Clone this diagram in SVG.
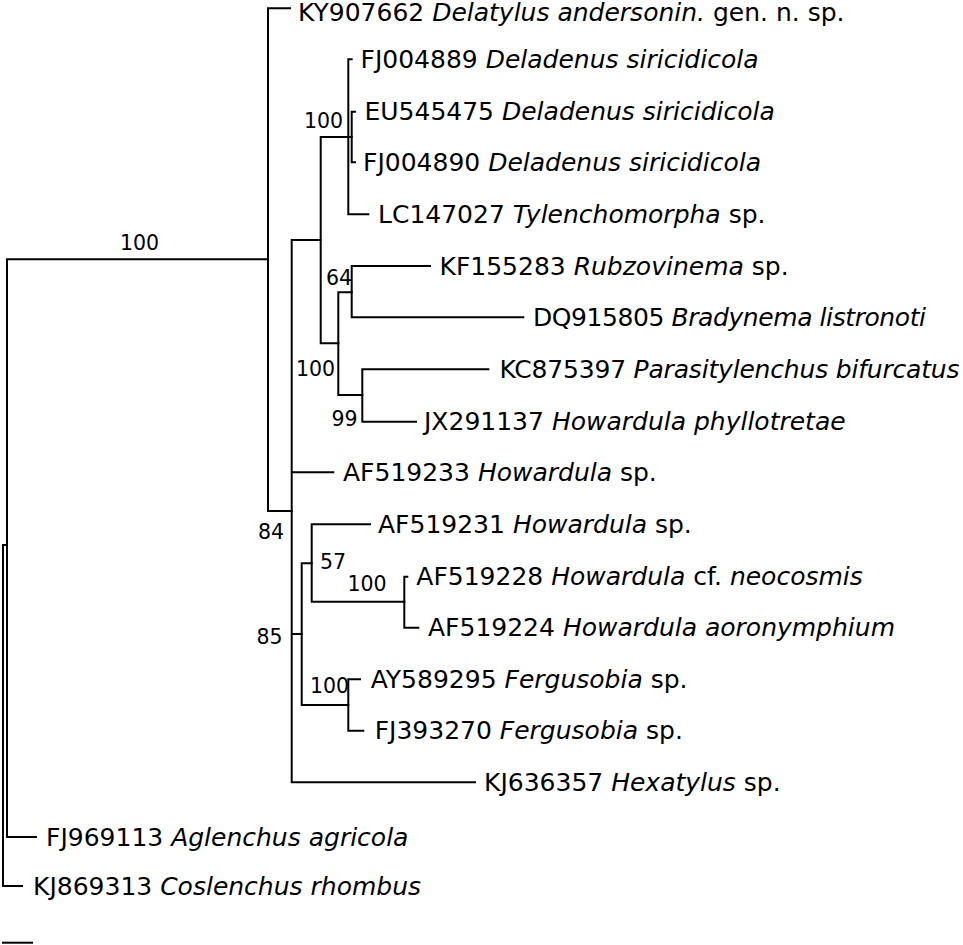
<svg xmlns="http://www.w3.org/2000/svg" width="963" height="945" viewBox="0 0 963 945">
<style>
.e{fill:none;stroke:#000;stroke-width:2;stroke-linecap:square}
.t{font-family:"DejaVu Sans",sans-serif;font-size:25px;fill:#000}
.b{font-family:"DejaVu Sans",sans-serif;font-size:20.5px;fill:#000}
.i{font-style:italic}
</style>
<rect width="963" height="945" fill="#fff"/>
<g id="connectors">
<path class="e" d="M3,545V886M3,545H7M3,886H22"/>
<path class="e" d="M7,259.3V837M7,259.3H268M7,837H36"/>
<path class="e" d="M268,8.3V511M268,8.3H290M268,511H291.7"/>
<path class="e" d="M291.7,240V782.3M291.7,240H320.7M291.7,472.3H333.3M291.7,634H301.7M291.7,782.3H475"/>
<path class="e" d="M320.7,137V343.3M320.7,137H351.7M320.7,343.3H338.3"/>
<path class="e" d="M348.3,59.3V214.3M348.3,59.3H351.7M348.3,214.3H368.3"/>
<path class="e" d="M351.7,111.7V162.3M351.7,111.7H355M351.7,162.3H355"/>
<path class="e" d="M338.3,292.3V395M338.3,292.3H351.7M338.3,395H362.3"/>
<path class="e" d="M351.7,266V317.3M351.7,266H430M351.7,317.3H523.3"/>
<path class="e" d="M362.3,369.3V421.7M362.3,369.3H488.3M362.3,421.7H416"/>
<path class="e" d="M301.7,563.3V705M301.7,563.3H311.7M301.7,705H348.3"/>
<path class="e" d="M311.7,524.3V601.7M311.7,524.3H370M311.7,601.7H404.3"/>
<path class="e" d="M404.3,576.7V627.7M404.3,576.7H407.3M404.3,627.7H418.3"/>
<path class="e" d="M348.3,679.3V730.7M348.3,679.3H360M348.3,730.7H363.3"/>
<path class="e" d="M3,942.7H32"/>
</g>
<g id="n-root"><text class="b" x="120" y="250">100</text></g>
<g id="n-deladenus"><text class="b" x="304" y="128">100</text></g>
<g id="n-64"><text class="b" x="326" y="285">64</text></g>
<g id="n-100b"><text class="b" x="296" y="376">100</text></g>
<g id="n-99"><text class="b" x="331.5" y="426">99</text></g>
<g id="n-84"><text class="b" x="258" y="539">84</text></g>
<g id="n-57"><text class="b" x="320" y="569">57</text></g>
<g id="n-100c"><text class="b" x="347.5" y="591">100</text></g>
<g id="n-85"><text class="b" x="256.5" y="644">85</text></g>
<g id="n-100d"><text class="b" x="310" y="693">100</text></g>
<g id="l1"><text class="t" x="298" y="20.5">KY907662 <tspan class="i">Delatylus andersonin.</tspan> gen. n. sp.</text></g>
<g id="l2"><text class="t" x="360.5" y="68">FJ004889 <tspan class="i">Deladenus siricidicola</tspan></text></g>
<g id="l3"><text class="t" x="364.5" y="120.4">EU545475 <tspan class="i">Deladenus siricidicola</tspan></text></g>
<g id="l4"><text class="t" x="363" y="171">FJ004890 <tspan class="i">Deladenus siricidicola</tspan></text></g>
<g id="l5"><text class="t" x="378" y="223">LC147027 <tspan class="i">Tylenchomorpha</tspan> sp.</text></g>
<g id="l6"><text class="t" x="439.5" y="274.7">KF155283 <tspan class="i">Rubzovinema</tspan> sp.</text></g>
<g id="l7"><text class="t" x="533" y="326" textLength="393" lengthAdjust="spacing">DQ915805 <tspan class="i">Bradynema listronoti</tspan></text></g>
<g id="l8"><text class="t" x="499.5" y="378" textLength="460" lengthAdjust="spacing">KC875397 <tspan class="i">Parasitylenchus bifurcatus</tspan></text></g>
<g id="l9"><text class="t" x="424" y="430.4">JX291137 <tspan class="i">Howardula phyllotretae</tspan></text></g>
<g id="l10"><text class="t" x="343" y="481">AF519233 <tspan class="i">Howardula</tspan> sp.</text></g>
<g id="l11"><text class="t" x="378" y="533">AF519231 <tspan class="i">Howardula</tspan> sp.</text></g>
<g id="l12"><text class="t" x="416.3" y="585.4">AF519228 <tspan class="i">Howardula</tspan> cf. <tspan class="i">neocosmis</tspan></text></g>
<g id="l13"><text class="t" x="428" y="636.4">AF519224 <tspan class="i">Howardula aoronymphium</tspan></text></g>
<g id="l14"><text class="t" x="370.7" y="688">AY589295 <tspan class="i">Fergusobia</tspan> sp.</text></g>
<g id="l15"><text class="t" x="374.7" y="739.4">FJ393270 <tspan class="i">Fergusobia</tspan> sp.</text></g>
<g id="l16"><text class="t" x="484" y="791">KJ636357 <tspan class="i">Hexatylus</tspan> sp.</text></g>
<g id="l17"><text class="t" x="46" y="845.7">FJ969113 <tspan class="i">Aglenchus agricola</tspan></text></g>
<g id="l18"><text class="t" x="33" y="894.7">KJ869313 <tspan class="i">Coslenchus rhombus</tspan></text></g>
</svg>
